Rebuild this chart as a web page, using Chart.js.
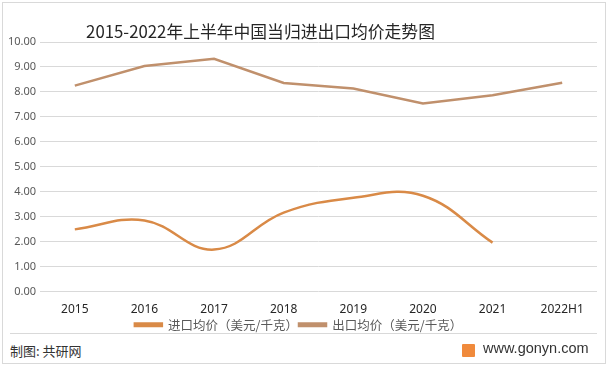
<!DOCTYPE html>
<html><head><meta charset="utf-8">
<script src="https://cdn.jsdelivr.net/npm/chart.js@4"></script>
<style>
html,body{margin:0;padding:0;background:#fff;}
#wrap{position:relative;width:612px;height:368px;overflow:hidden;font-family:"Noto Sans CJK SC","Noto Sans",sans-serif;}
#frame{position:absolute;left:2px;top:2px;width:602px;height:360px;border:1px solid #d9d9d9;box-sizing:content-box;}
#title{position:absolute;left:0;width:521px;top:18px;text-align:center;font-size:16.8px;color:#262626;line-height:26px;}
#cv{position:absolute;left:0;top:0;}
#sep{position:absolute;left:10px;top:333px;width:587px;height:1px;background:#d9d9d9;}
#credit{position:absolute;left:10px;top:341px;font-size:13px;color:#333;}
#site{position:absolute;left:483px;top:340px;font-size:14.5px;color:#333;font-family:"Liberation Sans",Arial,sans-serif;}
#logo{position:absolute;left:462px;top:344px;width:13px;height:13px;background:#f08a3c;border-radius:1px;}
</style></head>
<body>
<div id="wrap">
<div id="frame"></div>
<canvas id="cv" width="612" height="341"></canvas>
<div id="title">2015-2022年上半年中国当归进出口均价走势图</div>
<div id="sep"></div>
<div id="credit">制图: 共研网</div>
<div id="logo"></div>
<div id="site">www.gonyn.com</div>
</div>
<script>
const categories = ["2015","2016","2017","2018","2019","2020","2021","2022H1"];
const importPrice = [2.49, 2.85, 1.68, 3.16, 3.76, 3.84, 1.96, null];
const exportPrice = [8.25, 9.04, 9.33, 8.36, 8.14, 7.54, 7.87, 8.37];
const seriesNames = ["进口均价（美元/千克）", "出口均价（美元/千克）"];

const tickFont = {family:"'Noto Sans','Noto Sans CJK SC',sans-serif", size:11};
new Chart(document.getElementById('cv'), {
  type: 'line',
  data: {
    labels: categories,
    datasets: [
      {label: seriesNames[0], data: importPrice, borderColor:'#d98a47', backgroundColor:'#d98a47', borderWidth:2.5, pointRadius:0, tension:0.4, fill:false},
      {label: seriesNames[1], data: exportPrice, borderColor:'#c0906c', backgroundColor:'#c0906c', borderWidth:2.5, pointRadius:0, tension:0, fill:false}
    ]
  },
  options: {
    responsive:false, animation:false,
    layout:{padding:{top:42, right:15, left:0, bottom:0}},
    plugins:{
      title:{display:false},
      tooltip:{enabled:false},
      legend:{position:'bottom', labels:{boxWidth:27, boxHeight:2.5, padding:1, color:'#595959', font:{family:"'Noto Sans CJK SC',sans-serif", size:12.5}}}
    },
    scales:{
      x:{offset:true, grid:{display:false, drawTicks:false}, border:{display:false},
         ticks:{color:'#262626', font:{family:"'Noto Sans','Noto Sans CJK SC',sans-serif", size:12}, padding:11, maxRotation:0},
         afterFit:(s)=>{s.height=26;}},
      y:{min:0, max:10, grid:{color:'#d9d9d9', drawTicks:false, lineWidth:1}, border:{display:false},
         ticks:{stepSize:1, color:'#595959', font:tickFont, padding:4, callback:(v)=>Number(v).toFixed(2)},
         afterFit:(s)=>{s.width=40;}}
    }
  }
});
</script>
</body></html>
